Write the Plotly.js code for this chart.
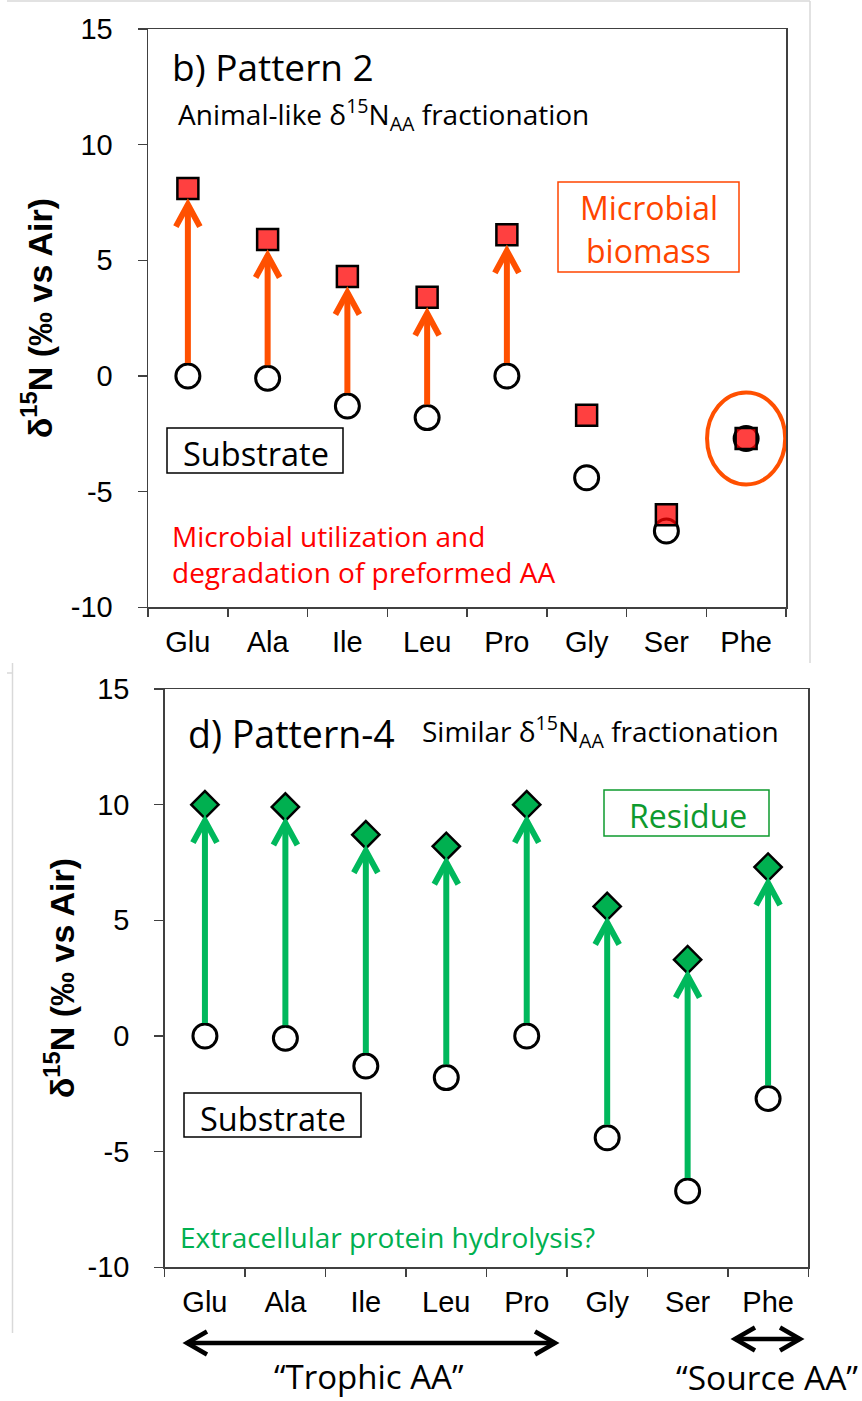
<!DOCTYPE html>
<html>
<head>
<meta charset="utf-8">
<script src="https://cdn.plot.ly/plotly-3.0.1.min.js"></script>
<style>
  html, body { margin: 0; padding: 0; background: #fff; }
  #chart { width: 862px; height: 1401px; }
</style>
</head>
<body>
<div id="chart"></div>
<script>
// Amino acids on the x axis
const aminoAcids = ['Glu', 'Ala', 'Ile', 'Leu', 'Pro', 'Gly', 'Ser', 'Phe'];
// Trophic amino acids (arrows drawn for these in panel b)
const trophicAA = ['Glu', 'Ala', 'Ile', 'Leu', 'Pro'];
// δ15N (‰ vs Air) of the substrate amino acids
const substrateD15N = [0.0, -0.1, -1.3, -1.8, 0.0, -4.4, -6.7, -2.7];
// Panel b: microbial biomass
const biomassD15N = [8.1, 5.9, 4.3, 3.4, 6.1, -1.7, -6.0, -2.7];
// Panel d: residue
const residueD15N = [10.0, 9.9, 8.7, 8.2, 10.0, 5.6, 3.3, 7.3];
// y axis ticks
const yTicks = [-10, -5, 0, 5, 10, 15];

const W = 862, H = 1401;
const px = x => x / W;
const py = y => 1 - y / H;

// Plot areas in pixels: [left, right, top, bottom]
const PANEL_B = [148, 786, 29, 607.3];
const PANEL_D = [164.7, 808.3, 689, 1267.3];
const Y_RANGE = [-10, 15];

const ARIAL = 'Arial, "Liberation Sans", sans-serif';
const SANS = '"Open Sans", Lato, sans-serif';
const ORANGE = '#FF5000';
const GREEN = '#00B85C';
const AXIS = '#404040';

function xAxis(p, anchor) {
  return {
    domain: [px(p[0]), px(p[1])], anchor: anchor,
    type: 'category', categoryarray: aminoAcids, range: [-0.5, aminoAcids.length - 0.5],
    tickson: 'boundaries', ticks: 'outside', ticklen: 8, tickwidth: 1.5, tickcolor: AXIS,
    showline: true, linecolor: AXIS, linewidth: 1.5, mirror: true,
    showgrid: false, zeroline: false,
    tickfont: { family: ARIAL, size: 29, color: '#000' },
    ticklabelstandoff: 8, fixedrange: true
  };
}
function yAxis(p, anchor, titleStandoff) {
  return {
    domain: [py(p[3]), py(p[2])], anchor: anchor,
    range: Y_RANGE, tickvals: yTicks, ticktext: yTicks.map(String),
    ticks: 'outside', ticklen: 9, tickwidth: 1.5, tickcolor: AXIS,
    showline: true, linecolor: AXIS, linewidth: 1.5, mirror: true,
    showgrid: false, zeroline: false,
    tickfont: { family: ARIAL, size: 29, color: '#000' },
    ticklabelstandoff: 19,
    title: { text: '<b>δ<sup>15</sup>N (‰ vs Air)</b>', font: { family: ARIAL, size: 34, color: '#000' }, standoff: titleStandoff },
    fixedrange: true
  };
}

const circleMarker = { symbol: 'circle', size: 24, color: '#fff', line: { color: '#000', width: 3 } };

const traces = [
  { x: aminoAcids, y: substrateD15N, xaxis: 'x', yaxis: 'y', type: 'scatter', mode: 'markers',
    name: 'Substrate', marker: circleMarker, cliponaxis: false },
  { x: aminoAcids, y: biomassD15N, xaxis: 'x', yaxis: 'y', type: 'scatter', mode: 'markers',
    name: 'Microbial biomass', cliponaxis: false,
    marker: { symbol: 'square', size: 21, color: 'rgba(255,0,0,0.75)', line: { color: '#000', width: 2.5 } } },
  { x: aminoAcids, y: substrateD15N, xaxis: 'x2', yaxis: 'y2', type: 'scatter', mode: 'markers',
    name: 'Substrate', marker: circleMarker, cliponaxis: false },
  { x: aminoAcids, y: residueD15N, xaxis: 'x2', yaxis: 'y2', type: 'scatter', mode: 'markers',
    name: 'Residue', cliponaxis: false,
    marker: { symbol: 'diamond', size: 21, color: '#00B050', line: { color: '#000', width: 2.5 } } }
];

// Upward arrow (shaft + open head) from a substrate value to a product value,
// with pixel gaps converted to axis units of the given panel.
function shiftArrow(i, from, to, suffix, panel, color) {
  const unitPx = (panel[3] - panel[2]) / (Y_RANGE[1] - Y_RANGE[0]);
  const catPx = (panel[1] - panel[0]) / aminoAcids.length;
  const tip = to - 16 / unitPx;          // vertex of the head, just below the marker
  const tail = from + 13 / unitPx;       // start just above the substrate circle
  const headLen = 22 / unitPx, headHalf = 12 / catPx;
  const ref = { xref: 'x' + suffix, yref: 'y' + suffix, line: { color: color, width: 6 } };
  return [
    Object.assign({ type: 'path', path: `M${i},${tail} L${i},${tip}` }, ref),
    Object.assign({ type: 'path',
      path: `M${i - headHalf},${tip - headLen} L${i},${tip} L${i + headHalf},${tip - headLen}` }, ref)
  ];
}

// Horizontal double-headed bracket below the x axis (paper pixels)
function span(x0, x1, y) {
  const L = 20, hw = 11.5, inset = 4;
  const a = x0 + inset, b = x1 - inset;
  const P = (x, yy) => `${px(x)},${py(yy)}`;
  const st = { type: 'path', xref: 'paper', yref: 'paper', line: { color: '#000', width: 4.5 } };
  return [
    Object.assign({ path: `M${P(a, y)} L${P(b, y)}` }, st),
    Object.assign({ path: `M${P(a + L, y - hw)} L${P(a, y)} L${P(a + L, y + hw)}` }, st),
    Object.assign({ path: `M${P(b - L, y - hw)} L${P(b, y)} L${P(b - L, y + hw)}` }, st)
  ];
}

function label(text, x, y, size, color, opts) {
  return Object.assign({
    xref: 'paper', yref: 'paper', x: px(x), y: py(y), text: text, showarrow: false,
    xanchor: 'left', yanchor: 'middle', align: 'left',
    font: { family: SANS, size: size, color: color }
  }, opts || {});
}

const annotations = [
  label('b) Pattern 2', 170, 66, 37, '#000'),
  label('Animal-like δ<sup>15</sup>N<sub>AA</sub> fractionation', 176, 115, 28, '#000'),
  label('Microbial', 648.5, 207.5, 32, '#FF4500', { xanchor: 'center' }),
  label('biomass', 648.5, 251, 32, '#FF4500', { xanchor: 'center' }),
  label('Substrate', 255.5, 453, 32.5, '#000', { xanchor: 'center' }),
  label('Microbial utilization and<br>degradation of preformed AA', 170, 554, 28, '#FF0000'),

  label('d) Pattern-4', 186, 733, 37.5, '#000'),
  label('Similar δ<sup>15</sup>N<sub>AA</sub> fractionation', 420, 732, 28, '#000'),
  label('Residue', 687.5, 816, 32, '#0E9A2E', { xanchor: 'center' }),
  label('Substrate', 273, 1118.5, 32.5, '#000', { xanchor: 'center' }),
  label('Extracellular protein hydrolysis?', 178, 1237, 28, '#00B050'),

  label('“Trophic AA”', 368.5, 1376.5, 33, '#000', { xanchor: 'center' }),
  label('“Source AA”', 767, 1377, 33.5, '#000', { xanchor: 'center' })
];

function box(x0, y0, x1, y1, color) {
  return { type: 'rect', xref: 'paper', yref: 'paper', x0: px(x0), x1: px(x1), y0: py(y1), y1: py(y0),
           line: { color: color, width: 1.5 }, fillcolor: 'rgba(0,0,0,0)' };
}
function rule(x0, y0, x1, y1) {
  return { type: 'line', xref: 'paper', yref: 'paper', x0: px(x0), x1: px(x1), y0: py(y0), y1: py(y1),
           line: { color: '#D9D9D9', width: 1.5 } };
}

const phe = aminoAcids.indexOf('Phe');
let shapes = [
  box(558, 182, 739, 272, '#FF4500'),
  box(167, 428, 343, 473, '#000'),
  box(604, 790, 769, 836, '#0E9A2E'),
  box(184, 1093, 361, 1137, '#000'),
  { type: 'circle', xref: 'x', yref: 'y',
    x0: phe - 0.49, x1: phe + 0.49, y0: biomassD15N[phe] - 1.99, y1: biomassD15N[phe] + 1.99,
    line: { color: ORANGE, width: 4 } },
  rule(7, 1, 810, 1), rule(810, 1, 810, 663),
  rule(12.5, 663, 12.5, 1333), rule(7, 673, 12.5, 673)
];
trophicAA.forEach(aa => {
  const i = aminoAcids.indexOf(aa);
  shapes = shapes.concat(shiftArrow(i, substrateD15N[i], biomassD15N[i], '', PANEL_B, ORANGE));
});
aminoAcids.forEach((aa, i) => {
  shapes = shapes.concat(shiftArrow(i, substrateD15N[i], residueD15N[i], '2', PANEL_D, GREEN));
});
shapes = shapes.concat(span(183, 559, 1343), span(731, 804, 1339));

const layout = {
  width: W, height: H,
  margin: { l: 0, r: 0, t: 0, b: 0 },
  paper_bgcolor: '#fff', plot_bgcolor: '#fff',
  showlegend: false,
  xaxis: xAxis(PANEL_B, 'y'),
  yaxis: yAxis(PANEL_B, 'x', 8),
  xaxis2: xAxis(PANEL_D, 'y2'),
  yaxis2: yAxis(PANEL_D, 'x2', 2),
  annotations: annotations,
  shapes: shapes
};

Plotly.newPlot('chart', traces, layout, { displayModeBar: false, staticPlot: true });
</script>
</body>
</html>
